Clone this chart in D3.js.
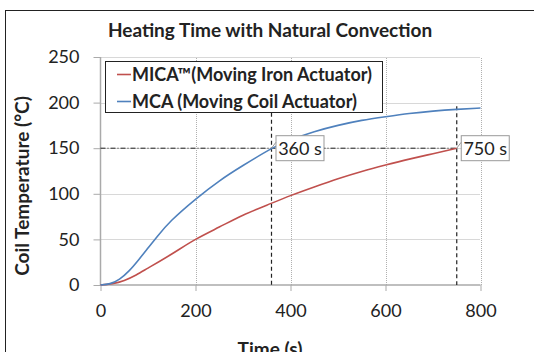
<!DOCTYPE html>
<html><head><meta charset="utf-8">
<script src="https://cdn.jsdelivr.net/npm/d3@7"></script>
<style>body{margin:0;background:#fff}svg{display:block}text{font-family:Lato,"Open Sans",sans-serif;fill:#222}</style>
</head><body>
<svg id="c" width="534" height="352"></svg>
<script>
// ---- data ----
const title = "Heating Time with Natural Convection";
const xTitle = "Time (s)";
const yTitle = "Coil Temperature (°C)";
const xTicks = [0, 200, 400, 600, 800];
const yTicks = [0, 50, 100, 150, 200, 250];
const seriesNames = ["MICA™(Moving Iron Actuator)", "MCA (Moving Coil Actuator)"];
const seriesColors = ["#c0504d", "#4f81bd"];
const micaTime = [0, 25, 50, 75, 100, 150, 200, 250, 300, 350, 400, 450, 500, 550, 600, 650, 700, 750];
const micaTemp = [0, 1.5, 5, 11, 18.5, 34, 50, 63.5, 76.5, 87.5, 98, 107.5, 116.5, 124.5, 131.5, 138, 144, 150];
const mcaTime = [0, 20, 40, 60, 80, 100, 120, 150, 200, 250, 300, 360, 400, 450, 500, 550, 600, 650, 700, 750, 800];
const mcaTemp = [0, 1.5, 6.5, 15.5, 27.5, 40.5, 53.5, 71, 94, 114, 131, 149.5, 159, 168, 175, 180.5, 184.5, 188, 190.7, 192.6, 194];
const threshold = 150;
const markerTimes = [360, 750];
const markerTops = [189, 196];
const markerLabels = ["360 s", "750 s"];

// ---- drawing ----
const svg = d3.select("#c");
const x = d3.scaleLinear().domain([0, 800]).range([100.5, 480.5]);
const y = d3.scaleLinear().domain([0, 250]).range([285, 57]);

// chart border
svg.append("rect").attr("x", 5.5).attr("y", 10.5).attr("width", 700).attr("height", 500)
  .attr("fill", "none").attr("stroke", "#222").attr("stroke-width", 1);

// gridlines
svg.append("g").selectAll("line").data(yTicks.filter(d => d > 0)).join("line")
  .attr("x1", x(0)).attr("x2", x(800)).attr("y1", d => Math.round(y(d)) + 0.5).attr("y2", d => Math.round(y(d)) + 0.5)
  .attr("stroke", "#b0b0b0").attr("stroke-dasharray", "1,1");
svg.append("g").selectAll("line").data(xTicks.filter(d => d > 0)).join("line")
  .attr("y1", y(0)).attr("y2", y(250)).attr("x1", d => Math.round(x(d)) + 0.5).attr("x2", d => Math.round(x(d)) + 0.5)
  .attr("stroke", "#b0b0b0").attr("stroke-dasharray", "1,1");

// axes
const xAxis = svg.append("g").attr("transform", `translate(0,${y(0)})`)
  .call(d3.axisBottom(x).tickValues(xTicks).tickSize(6).tickPadding(13).tickFormat(d3.format("d")));
const yAxis = svg.append("g").attr("transform", `translate(${x(0)},0)`)
  .call(d3.axisLeft(y).tickValues(yTicks).tickSize(7).tickPadding(14).tickFormat(d3.format("d")));
[xAxis, yAxis].forEach(a => {
  a.select(".domain").attr("stroke", "#aaa").attr("stroke-width", 1.5);
  a.selectAll(".tick line").attr("stroke", "#aaa");
  a.selectAll("text").style("font-size", "18px").style("font-family", "Lato, sans-serif").attr("fill", "#222");
});
yAxis.select(".domain").attr("d", `M0,${y(0)}V${y(250)}`);
xAxis.select(".domain").attr("d", `M0,0H${x(800)-x(0)}`).attr("transform", `translate(${x(0)},0)`);

// threshold dash-dot line
svg.append("line").attr("x1", x(0)).attr("x2", x(markerTimes[1])).attr("y1", y(threshold)).attr("y2", y(threshold))
  .attr("stroke", "#222").attr("stroke-width", 1).attr("stroke-dasharray", "5,2,1,2");
// vertical drop lines
svg.append("g").selectAll("line").data(markerTimes).join("line")
  .attr("x1", d => x(d)).attr("x2", d => x(d)).attr("y1", (d, i) => y(markerTops[i])).attr("y2", y(0))
  .attr("stroke", "#222").attr("stroke-width", 1.2).attr("stroke-dasharray", "4,3");

// series
const line = d3.line().x(d => x(d[0])).y(d => y(d[1])).curve(d3.curveNatural);
svg.append("path").datum(micaTime.map((t, i) => [t, micaTemp[i]])).attr("d", line)
  .attr("fill", "none").attr("stroke", seriesColors[0]).attr("stroke-width", 1.6);
svg.append("path").datum(mcaTime.map((t, i) => [t, mcaTemp[i]])).attr("d", line)
  .attr("fill", "none").attr("stroke", seriesColors[1]).attr("stroke-width", 1.6);

// marker labels
markerTimes.forEach((t, i) => {
  const px = x(t), py = y(threshold);
  const g = svg.append("g");
  g.append("rect").attr("x", px + 4.5).attr("y", py - 12.5).attr("width", 48).attr("height", 25)
    .attr("fill", "#fff").attr("stroke", "#999");
  g.append("path").attr("d", `M${px},${py}L${px+4.5},${py-6}`).attr("stroke", "#999").attr("fill", "none");
  g.append("text").attr("x", px + 28.5).attr("y", py + 6.5).attr("text-anchor", "middle")
    .style("font-size", "18px").text(markerLabels[i]);
});

// legend
const lg = svg.append("g");
lg.append("rect").attr("x", 105.5).attr("y", 61.5).attr("width", 277).attr("height", 51)
  .attr("fill", "#fff").attr("stroke", "#222");
seriesNames.forEach((n, i) => {
  const ly = 74.5 + i * 27;
  lg.append("line").attr("x1", 117).attr("x2", 131).attr("y1", ly).attr("y2", ly)
    .attr("stroke", seriesColors[i]).attr("stroke-width", 1.6);
  lg.append("text").attr("x", 132).attr("y", ly + 6.5).style("font-size", "18px").style("font-weight", "bold").text(n);
});

// titles
svg.append("text").attr("x", 270).attr("y", 37).attr("text-anchor", "middle")
  .style("font-size", "19px").style("font-weight", "bold").text(title);
svg.append("text").attr("x", 270).attr("y", 356).attr("text-anchor", "middle")
  .style("font-size", "19px").style("font-weight", "bold").text(xTitle);
svg.append("text").attr("transform", "translate(29,186) rotate(-90)").attr("text-anchor", "middle")
  .style("font-size", "19px").style("font-weight", "bold").text(yTitle);
</script>
</body></html>
